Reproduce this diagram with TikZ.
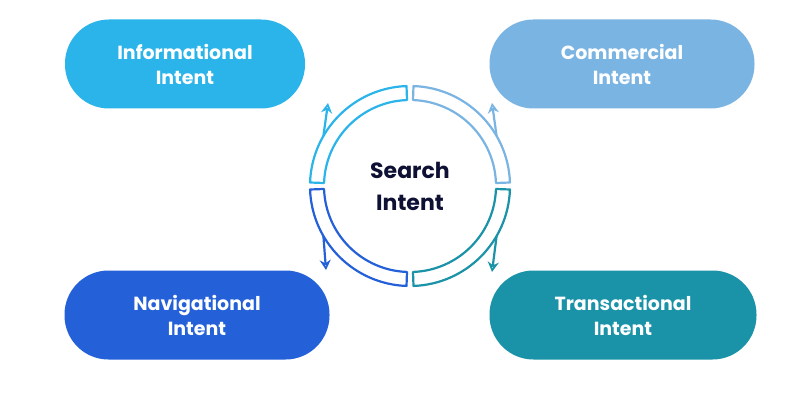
\documentclass[tikz,border=0pt]{standalone}
\usepackage{fontspec}
\setmainfont{Poppins}
\usetikzlibrary{arrows.meta,calc}
\definecolor{cI}{HTML}{2AB4EA}
\definecolor{cC}{HTML}{7AB4E3}
\definecolor{cN}{HTML}{2460D8}
\definecolor{cT}{HTML}{1A93A8}
\definecolor{navy}{HTML}{0E1133}
\begin{document}
\begin{tikzpicture}[x=1pt,y=-1pt,
 pill/.style={rounded corners=44pt,minimum height=89pt,text=white,align=center,font=\fontsize{19}{25}\selectfont\bfseries,inner sep=0pt},
 band/.style={line width=2.2pt,line join=round},
 arr/.style={line width=2.2pt,-{Stealth[length=10pt,width=11pt,open]}}]
\useasboundingbox (0,0) rectangle (800,401);
\fill[white] (0,0) rectangle (800,401);
\node[pill,fill=cI,minimum width=240pt] (inf) at (185,64) {Informational\\Intent};
\node[pill,fill=cC,minimum width=265pt] (com) at (622,64) {Commercial\\Intent};
\node[pill,fill=cN,minimum width=265pt] (nav) at (197,315) {Navigational\\Intent};
\node[pill,fill=cT,minimum width=267pt] (tra) at (623,315) {Transactional\\Intent};
\coordinate (c) at (410,186);
\node[text=navy,align=center,font=\fontsize{22}{32}\selectfont\bfseries] (si) at (c) {Search\\Intent};
\foreach \a/\b/\col in {178/92/cN, 88/2/cT, -2/-88/cC, -92/-178/cI}{
  \draw[band,\col] ($(c)+(\a:100)$) arc[start angle=\a,end angle=\b,radius=100]
     -- ($(c)+(\b:86)$) arc[start angle=\b,end angle=\a,radius=86] -- cycle;
}
\coordinate (t1) at (328,103);
\coordinate (t2) at (492,103);
\coordinate (t3) at (492,272);
\coordinate (t4) at (326,270);
\draw[arr,cI] ($(c)+(-150:100)$) -- (t1);
\draw[arr,cC] ($(c)+(-30:100)$) -- (t2);
\draw[arr,cT] ($(c)+(30:100)$) -- (t3);
\draw[arr,cN] ($(c)+(150:100)$) -- (t4);
\end{tikzpicture}
\end{document}
